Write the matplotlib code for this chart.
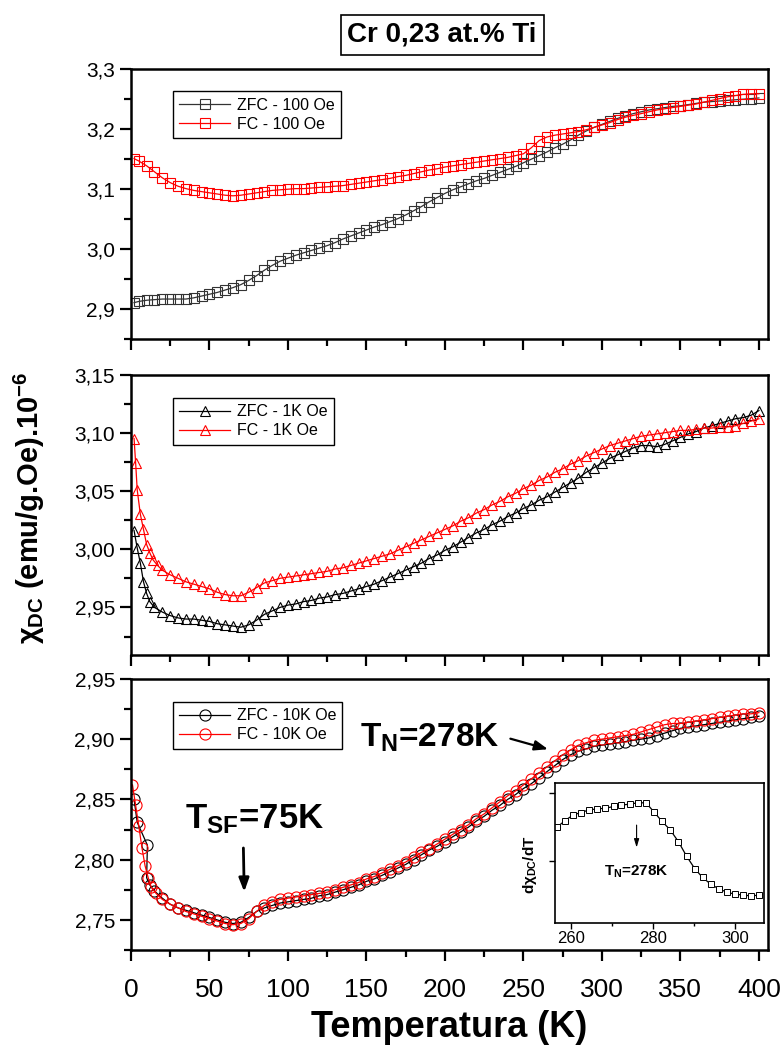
import matplotlib
matplotlib.use("Agg")
import matplotlib.pyplot as plt
from matplotlib.ticker import MultipleLocator, FuncFormatter

plt.rcParams['font.family'] = ['Liberation Sans', 'DejaVu Sans']
plt.rcParams['mathtext.fontset'] = 'custom'
plt.rcParams['mathtext.rm'] = 'Liberation Sans:bold'
plt.rcParams['mathtext.it'] = 'Liberation Sans:bold'
plt.rcParams['mathtext.bf'] = 'Liberation Sans:bold'

NARROW = ['Liberation Sans Narrow', 'Liberation Sans']

# temperaturas comuns (K)
T_tail = [20, 25, 30, 35, 40, 45, 50, 55, 60, 65, 70, 75, 80, 85, 90, 95, 100,
          105, 110, 115, 120, 125, 130, 135, 140, 145, 150, 155, 160, 165, 170,
          175, 180, 185, 190, 195, 200, 205, 210, 215, 220, 225, 230, 235, 240,
          245, 250, 255, 260, 265, 270, 275, 280, 285, 290, 295, 300, 305, 310,
          315, 320, 325, 330, 335, 340, 345, 350, 355, 360, 365, 370, 375, 380,
          385, 390, 395, 400]

# painel 1 - 100 Oe
T_100 = [2, 5, 10, 15] + T_tail
zfc_100 = [2.910, 2.912, 2.914, 2.915, 2.916, 2.916, 2.916, 2.916, 2.918, 2.921,
           2.924, 2.927, 2.931, 2.935, 2.940, 2.947, 2.955, 2.964, 2.972, 2.979,
           2.984, 2.989, 2.993, 2.997, 3.001, 3.005, 3.010, 3.016, 3.021, 3.026,
           3.031, 3.036, 3.040, 3.045, 3.050, 3.056, 3.063, 3.070, 3.078, 3.085,
           3.092, 3.098, 3.103, 3.108, 3.113, 3.117, 3.122, 3.127, 3.132, 3.137,
           3.143, 3.149, 3.155, 3.161, 3.168, 3.174, 3.181, 3.189, 3.196, 3.202,
           3.207, 3.212, 3.217, 3.221, 3.225, 3.228, 3.231, 3.233, 3.235, 3.237,
           3.238, 3.240, 3.242, 3.244, 3.245, 3.246, 3.247, 3.248, 3.249, 3.250,
           3.251]
fc_100 = [3.150, 3.146, 3.138, 3.128, 3.118, 3.110, 3.104, 3.100, 3.097, 3.095,
          3.093, 3.091, 3.089, 3.088, 3.089, 3.091, 3.093, 3.095, 3.097, 3.098,
          3.099, 3.100, 3.100, 3.101, 3.102, 3.103, 3.104, 3.105, 3.107, 3.109,
          3.111, 3.113, 3.115, 3.117, 3.120, 3.122, 3.125, 3.128, 3.131, 3.133,
          3.136, 3.138, 3.140, 3.142, 3.144, 3.146, 3.148, 3.150, 3.152, 3.155,
          3.158, 3.168, 3.180, 3.186, 3.189, 3.191, 3.193, 3.195, 3.198, 3.202,
          3.206, 3.210, 3.215, 3.219, 3.222, 3.225, 3.228, 3.231, 3.233, 3.235,
          3.237, 3.239, 3.241, 3.244, 3.247, 3.250, 3.253, 3.255, 3.257, 3.258,
          3.258]

# painel 2 - 1K Oe
T_1k_zfc = [2, 4, 6, 8, 10, 12, 15] + T_tail
zfc_1k = [3.016, 3.001, 2.988, 2.972, 2.962, 2.955, 2.950, 2.946, 2.943, 2.941,
          2.940, 2.940, 2.939, 2.938, 2.936, 2.935, 2.934, 2.933, 2.935, 2.939,
          2.944, 2.947, 2.950, 2.952, 2.953, 2.955, 2.956, 2.958, 2.959, 2.961,
          2.962, 2.964, 2.966, 2.968, 2.970, 2.973, 2.976, 2.979, 2.982, 2.985,
          2.988, 2.992, 2.995, 2.999, 3.002, 3.006, 3.010, 3.014, 3.017, 3.021,
          3.024, 3.028, 3.031, 3.035, 3.038, 3.042, 3.045, 3.049, 3.053, 3.057,
          3.061, 3.066, 3.070, 3.074, 3.078, 3.081, 3.084, 3.087, 3.089, 3.089,
          3.088, 3.090, 3.093, 3.096, 3.099, 3.101, 3.104, 3.106, 3.108, 3.110,
          3.112, 3.113, 3.115, 3.119]
T_1k_fc = [2, 3, 4, 6, 8, 10, 12, 14, 17] + T_tail
fc_1k = [3.095, 3.074, 3.051, 3.030, 3.017, 3.004, 2.997, 2.991, 2.986, 2.982,
         2.978, 2.975, 2.972, 2.970, 2.968, 2.966, 2.963, 2.961, 2.960, 2.960,
         2.963, 2.967, 2.971, 2.973, 2.975, 2.976, 2.977, 2.978, 2.979, 2.980,
         2.981, 2.983, 2.984, 2.986, 2.988, 2.990, 2.992, 2.994, 2.996, 2.999,
         3.002, 3.005, 3.008, 3.011, 3.014, 3.017, 3.020, 3.024, 3.027, 3.031,
         3.034, 3.038, 3.041, 3.045, 3.048, 3.052, 3.055, 3.059, 3.062, 3.066,
         3.069, 3.073, 3.076, 3.080, 3.083, 3.086, 3.089, 3.091, 3.093, 3.095,
         3.097, 3.098, 3.099, 3.100, 3.101, 3.102, 3.102, 3.103, 3.104, 3.104,
         3.105, 3.105, 3.106, 3.108, 3.110, 3.112]

# painel 3 - 10K Oe
T_10k_zfc = [2, 4, 10.5, 10, 12, 15] + T_tail
zfc_10k = [2.850, 2.831, 2.812, 2.785, 2.779, 2.774, 2.768, 2.763, 2.760, 2.758,
           2.756, 2.754, 2.752, 2.750, 2.748, 2.747, 2.748, 2.752, 2.757, 2.760,
           2.762, 2.764, 2.765, 2.766, 2.767, 2.768, 2.770, 2.771, 2.773, 2.775,
           2.777, 2.779, 2.782, 2.784, 2.787, 2.790, 2.793, 2.796, 2.800, 2.804,
           2.808, 2.811, 2.815, 2.819, 2.823, 2.827, 2.832, 2.836, 2.841, 2.845,
           2.850, 2.854, 2.859, 2.863, 2.868, 2.873, 2.878, 2.883, 2.887, 2.890,
           2.892, 2.894, 2.895, 2.896, 2.897, 2.898, 2.899, 2.900, 2.901, 2.903,
           2.905, 2.907, 2.909, 2.910, 2.911, 2.912, 2.913, 2.914, 2.915, 2.916,
           2.917, 2.918, 2.919]
T_10k_fc = [1, 3, 5, 7, 9, 11, 13, 16] + T_tail
fc_10k = [2.862, 2.845, 2.828, 2.810, 2.795, 2.785, 2.777, 2.772, 2.767, 2.763,
          2.760, 2.757, 2.755, 2.753, 2.751, 2.749, 2.747, 2.746, 2.747, 2.751,
          2.757, 2.762, 2.765, 2.767, 2.768, 2.769, 2.770, 2.771, 2.772, 2.773,
          2.775, 2.777, 2.779, 2.781, 2.784, 2.786, 2.789, 2.792, 2.795, 2.798,
          2.802, 2.806, 2.809, 2.813, 2.817, 2.821, 2.825, 2.829, 2.834, 2.838,
          2.843, 2.848, 2.853, 2.857, 2.862, 2.867, 2.872, 2.877, 2.882, 2.887,
          2.891, 2.895, 2.897, 2.899, 2.900, 2.901, 2.902, 2.903, 2.904, 2.906,
          2.908, 2.910, 2.912, 2.913, 2.913, 2.914, 2.915, 2.916, 2.917, 2.918,
          2.919, 2.920, 2.921, 2.921, 2.922]

# inset - derivada (unidades arbitrarias)
T_ins = [256.5, 258.5, 260.5, 262.4, 264.4, 266.4, 268.4, 270.4, 272.3, 274.3,
         276.3, 278.3, 280.3, 282.2, 284.2, 286.2, 288.2, 290.2, 292.1, 294.1,
         296.1, 298.1, 300.1, 302.0, 304.0, 306.0]
dchi = [0.495, 0.594, 0.678, 0.713, 0.752, 0.767, 0.777, 0.802, 0.822, 0.837,
        0.856, 0.856, 0.718, 0.584, 0.460, 0.287, 0.074, -0.109, -0.238, -0.337,
        -0.406, -0.455, -0.485, -0.495, -0.510, -0.495]


def virgula(nd):
    return FuncFormatter(lambda v, p: f'{v:.{nd}f}'.replace('.', ','))


fig = plt.figure(figsize=(7.84, 10.55), dpi=100)
L, W = 0.167, 0.813
ax1 = fig.add_axes([L, 0.679, W, 0.256])
ax2 = fig.add_axes([L, 0.379, W, 0.266])
ax3 = fig.add_axes([L, 0.0995, W, 0.257])

mk = dict(markersize=7, markerfacecolor='none', markeredgewidth=0.8, linewidth=0.9)

ax1.plot(T_100, zfc_100, color='#333333', marker='s', markeredgecolor='#333333', label='ZFC - 100 Oe', **mk)
ax1.plot(T_100, fc_100, color='red', marker='s', markeredgecolor='red', label='FC - 100 Oe', **mk)
ax1.set_ylim(2.85, 3.30)
ax1.yaxis.set_major_locator(MultipleLocator(0.1))
ax1.yaxis.set_minor_locator(MultipleLocator(0.05))
ax1.yaxis.set_major_formatter(virgula(1))

ax2.plot(T_1k_zfc, zfc_1k, color='black', marker='^', markeredgecolor='black', label='ZFC - 1K Oe', **mk)
ax2.plot(T_1k_fc, fc_1k, color='red', marker='^', markeredgecolor='red', label='FC - 1K Oe', **mk)
ax2.set_ylim(2.909, 3.15)
ax2.yaxis.set_major_locator(MultipleLocator(0.05))
ax2.yaxis.set_minor_locator(MultipleLocator(0.025))
ax2.yaxis.set_major_formatter(virgula(2))

mk3 = dict(mk, markersize=8)
ax3.plot(T_10k_zfc, zfc_10k, color='black', marker='o', markeredgecolor='black', label='ZFC - 10K Oe', **mk3)
ax3.plot(T_10k_fc, fc_10k, color='red', marker='o', markeredgecolor='red', label='FC - 10K Oe', **mk3)
ax3.set_ylim(2.725, 2.95)
ax3.yaxis.set_major_locator(MultipleLocator(0.05))
ax3.yaxis.set_minor_locator(MultipleLocator(0.025))
ax3.yaxis.set_major_formatter(virgula(2))

for ax in (ax1, ax2, ax3):
    ax.set_xlim(0, 406)
    ax.xaxis.set_major_locator(MultipleLocator(50))
    ax.xaxis.set_minor_locator(MultipleLocator(25))
    for s in ax.spines.values():
        s.set_linewidth(1.8)
    ax.tick_params(which='both', direction='out', width=1.6, labelsize=15, top=False, right=False)
    ax.tick_params(which='major', length=8)
    ax.tick_params(which='minor', length=5)
    leg = ax.legend(loc='upper left', bbox_to_anchor=(0.053, 0.945), fontsize=11.5,
                    frameon=True, fancybox=False, edgecolor='black', framealpha=1,
                    handlelength=3.2, borderpad=0.4, labelspacing=0.25, handletextpad=0.4)
    leg.get_frame().set_linewidth(1.0)
ax1.tick_params(labelbottom=False)
ax2.tick_params(labelbottom=False)
ax3.tick_params(axis='x', pad=12)
for lab in ax3.get_xticklabels():
    lab.set_family(NARROW)
    lab.set_fontsize(19)

ax3.set_xlabel('Temperatura (K)', fontsize=26, fontweight='bold', family=NARROW, labelpad=6)

fig.text(0.038, 0.519, r'$\chi_{DC}$ (emu/g.Oe).10$^{-6}$', rotation=90,
         fontsize=21, fontweight='bold', ha='center', va='center')

fig.text(0.564, 0.967, 'Cr 0,23 at.% Ti', fontsize=20, fontweight='bold',
         ha='center', va='center',
         bbox=dict(boxstyle='square,pad=0.25', fc='white', ec='black', lw=1.2))

seta = dict(arrowstyle='-|>,head_length=0.8,head_width=0.3', color='black', lw=2)
ax3.annotate('', xy=(72.2, 2.771), xytext=(71.6, 2.812), arrowprops=seta)
ax3.text(34.5, 2.826, r'T$_{SF}$=75K', fontsize=25, fontweight='bold',
         family=NARROW, ha='left', va='baseline')
ax3.annotate('', xy=(267.4, 2.891), xytext=(240, 2.901), arrowprops=dict(seta, lw=1.6))
ax3.text(235, 2.894, r'T$_N$=278K', fontsize=24, fontweight='bold',
         family=NARROW, ha='right', va='baseline')

# inset
axi = fig.add_axes([0.708, 0.1251, 0.267, 0.1327])
axi.plot(T_ins, dchi, color='black', marker='s', markersize=4, markerfacecolor='white',
         markeredgewidth=0.7, linewidth=0.9)
axi.set_xlim(256.1, 307.2)
axi.set_ylim(-0.906, 1.146)
axi.set_xticks([260, 280, 300])
axi.xaxis.set_minor_locator(MultipleLocator(10))
axi.set_yticks([0, 1])
axi.set_yticklabels([])
axi.tick_params(which='both', direction='out', labelsize=11, width=1.0, top=False, right=False, pad=2)
axi.tick_params(which='major', length=4)
axi.tick_params(which='minor', length=2.5)
for lab in axi.get_xticklabels():
    lab.set_family(NARROW)
    lab.set_fontsize(12)
for s in axi.spines.values():
    s.set_linewidth(1.2)
axi.set_ylabel(r'd$\chi_{DC}$/dT', fontsize=11, fontweight='bold')
axi.yaxis.set_label_coords(-0.075, 0.42)
axi.annotate('', xy=(276, 0.16), xytext=(276, 0.57),
             arrowprops=dict(arrowstyle='-|>,head_length=0.5,head_width=0.15', color='black', lw=0.8))
axi.text(276, -0.15, r'T$_N$=278K', fontsize=11, fontweight='bold', family=NARROW,
         ha='center', va='center')

fig.savefig('out.png', dpi=100)
